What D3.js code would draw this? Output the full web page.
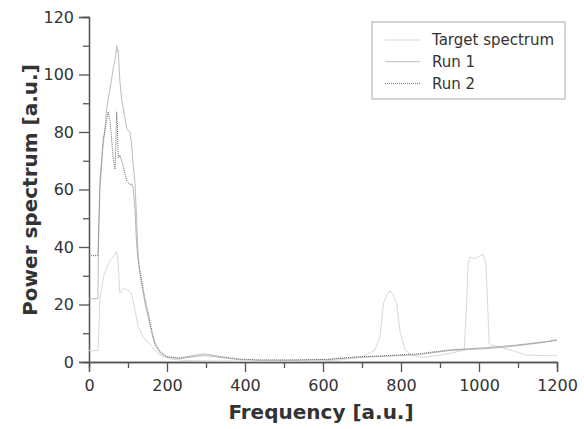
<!DOCTYPE html>
<html>
<head>
<meta charset="utf-8">
<script src="https://cdn.jsdelivr.net/npm/d3@7"></script>
<style>
  html, body { margin: 0; padding: 0; background: #fff; }
  svg text { font-family: "DejaVu Sans", Verdana, sans-serif; fill: #333; }
</style>
</head>
<body>
<svg id="chart" width="584" height="429"></svg>
<script>
// Frequency / power pairs for each spectrum
const targetFreq = [0, 23, 24, 28, 37, 50, 62, 71, 75, 79, 88, 100, 109, 118, 126, 139, 161, 182, 210, 250, 300, 400, 500, 600, 650, 703, 733, 746, 755, 764, 772, 780, 789, 797, 810, 827, 857, 900, 940, 962, 968, 972, 977, 990, 1000, 1011, 1018, 1026, 1030, 1045, 1080, 1122, 1160, 1200];
const targetPower = [4, 4, 7.6, 21.6, 29.7, 34.4, 36.5, 38.4, 34.4, 24, 25.6, 25, 23.9, 18, 12.3, 8.8, 5.3, 2.4, 1.0, 0.5, 0.4, 0.3, 0.3, 0.4, 0.8, 1.9, 4.2, 8.8, 20.4, 23.5, 24.8, 23.5, 20.4, 11, 4.2, 2.4, 1.6, 2.4, 3.4, 4.2, 20, 34, 36.5, 36, 36.8, 37.5, 34, 6.6, 5.8, 5.5, 4.2, 2.4, 2.2, 2.2];

const run1Freq = [0, 23, 24, 28, 36, 41, 45, 54, 62, 68, 71, 73, 75, 79, 84, 88, 92, 97, 105, 109, 113, 118, 122, 126, 130, 135, 144, 152, 161, 169, 182, 199, 233, 276, 301, 336, 387, 438, 520, 609, 677, 760, 840, 926, 970, 1011, 1050, 1096, 1130, 1165, 1200];
const run1Power = [22, 22, 40, 60, 75, 81, 88, 95, 102, 106, 110, 108, 108.5, 98, 91, 88, 85, 81, 80, 76, 69, 62, 50, 37, 31, 27, 20, 15.5, 10, 6, 3.2, 1.6, 1.2, 2.0, 2.2, 1.6, 0.8, 0.6, 0.6, 0.8, 1.5, 2.0, 2.5, 4.0, 4.3, 4.6, 5.0, 5.6, 6.2, 6.8, 7.8];

const run2Freq = [0, 23, 25, 28, 36, 45, 49, 54, 62, 67, 71, 73, 75, 79, 84, 88, 97, 105, 109, 113, 118, 122, 126, 135, 144, 152, 161, 169, 182, 199, 233, 276, 297, 336, 387, 438, 520, 609, 677, 760, 840, 926, 970, 1011, 1050, 1096, 1130, 1165, 1200];
const run2Power = [37, 37, 48, 63, 77, 84, 87, 84, 71, 67, 87, 81, 71, 72, 70, 68, 63, 61.6, 62, 60.5, 53, 41, 35.5, 28.5, 21.6, 17, 11, 6.6, 3.6, 1.9, 1.4, 2.4, 2.8, 1.9, 1.0, 0.7, 0.7, 0.9, 1.7, 2.2, 2.8, 4.2, 4.6, 4.9, 5.3, 5.9, 6.4, 7.0, 7.5];

const xTicks = [0, 200, 400, 600, 800, 1000, 1200];
const yTicks = [0, 20, 40, 60, 80, 100, 120];
const seriesNames = ["Target spectrum", "Run 1", "Run 2"];

const svg = d3.select("#chart");
const x = d3.scaleLinear().domain([0, 1200]).range([89, 557]);
const y = d3.scaleLinear().domain([0, 120]).range([362, 17]);

const styles = [
  { stroke: "#d9d9d9", width: 1, dash: null },
  { stroke: "#bdbdbd", width: 1, dash: null },
  { stroke: "#6e6e6e", width: 1, dash: "1,1" }
];

const series = [
  d3.zip(targetFreq, targetPower),
  d3.zip(run1Freq, run1Power),
  d3.zip(run2Freq, run2Power)
];

const line = d3.line().x(d => x(d[0])).y(d => y(d[1]));

// Axes: major ticks labelled, minor ticks between them
const axisColor = "#555";
const xMinor = d3.range(100, 1200, 200);
const yMinor = d3.range(10, 120, 20);

const gx = svg.append("g").attr("transform", `translate(0,${y(0)})`)
  .call(d3.axisBottom(x).tickValues(xTicks).tickSize(10).tickPadding(4).tickFormat(d3.format("d")));
const gxm = svg.append("g").attr("transform", `translate(0,${y(0)})`)
  .call(d3.axisBottom(x).tickValues(xMinor).tickSize(6).tickFormat(""));
const gy = svg.append("g").attr("transform", `translate(${x(0)},0)`)
  .call(d3.axisLeft(y).tickValues(yTicks).tickSize(10).tickPadding(4).tickFormat(d3.format("d")));
const gym = svg.append("g").attr("transform", `translate(${x(0)},0)`)
  .call(d3.axisLeft(y).tickValues(yMinor).tickSize(6).tickFormat(""));

[gx, gxm, gy, gym].forEach(g => {
  g.selectAll("path.domain").attr("stroke", axisColor).attr("stroke-width", 1.3);
  g.selectAll(".tick line").attr("stroke", axisColor).attr("stroke-width", 1.3);
  g.selectAll(".tick text").attr("font-size", 16).attr("fill", "#333")
    .attr("font-family", "DejaVu Sans, sans-serif");
});
gx.selectAll(".tick text").attr("dy", "0.95em");
gy.selectAll(".tick text").attr("dx", "-1");

// Spectra
series.forEach((s, i) => {
  svg.append("path").datum(s)
    .attr("fill", "none")
    .attr("stroke", styles[i].stroke)
    .attr("stroke-width", styles[i].width)
    .attr("stroke-dasharray", styles[i].dash)
    .attr("d", line);
});

// Axis titles
svg.append("text").attr("x", 321).attr("y", 419).attr("text-anchor", "middle")
  .attr("font-size", 20).attr("font-weight", "bold").attr("fill", "#333")
  .text("Frequency [a.u.]");
svg.append("text").attr("transform", "translate(37,190) rotate(-90)").attr("text-anchor", "middle")
  .attr("font-size", 20).attr("font-weight", "bold").attr("fill", "#333")
  .text("Power spectrum [a.u.]");

// Legend
const lg = svg.append("g");
lg.append("rect").attr("x", 372).attr("y", 22).attr("width", 193).attr("height", 77)
  .attr("fill", "#fff").attr("stroke", "#aaa").attr("stroke-width", 1);
seriesNames.forEach((name, i) => {
  const yy = 40 + i * 21.7;
  lg.append("line").attr("x1", 385).attr("x2", 420).attr("y1", yy).attr("y2", yy)
    .attr("stroke", styles[i].stroke).attr("stroke-width", 1)
    .attr("stroke-dasharray", styles[i].dash);
  lg.append("text").attr("x", 432).attr("y", yy).attr("dy", "0.35em")
    .attr("font-size", 15).attr("fill", "#333").text(name);
});
</script>
</body>
</html>
